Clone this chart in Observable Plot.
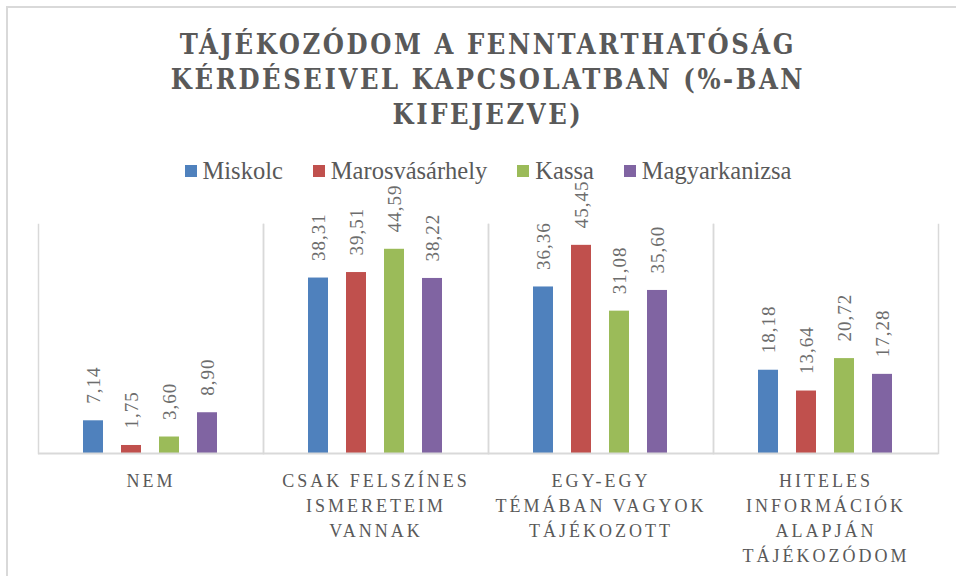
<!DOCTYPE html>
<html>
<head>
<meta charset="utf-8">
<script src="https://cdn.jsdelivr.net/npm/d3@7"></script>
<script src="https://cdn.jsdelivr.net/npm/@observablehq/plot@0.6"></script>
<style>
  html, body { margin: 0; padding: 0; background: #fff; }
  #wrap { position: relative; width: 956px; height: 576px; overflow: hidden; }
  #frame { position: absolute; left: 6px; top: 6px; width: 1000px; height: 1000px;
           border-left: 2px solid #d9d9d9; border-top: 2px solid #d9d9d9; }
  #chart { position: absolute; left: 0; top: 0; }
  #title { position: absolute; left: 37px; width: 902px; top: 27px; text-align: center;
           font-family: "DejaVu Serif Condensed", "DejaVu Serif", serif; font-stretch: condensed;
           font-weight: bold; font-size: 27px; letter-spacing: 2.6px; line-height: 35px; color: #595959; }
  #legend { position: absolute; left: 37px; width: 902px; top: 157px; display: flex; justify-content: center;
            gap: 30px; font-family: "Liberation Serif", serif; font-size: 24.5px; color: #595959; }
  .item { display: flex; align-items: center; }
  .sw { width: 12px; height: 12px; margin-right: 6px; display: inline-block; }
  #chart g[font-size="18"] text { letter-spacing: 3px; }
  #chart g[font-size="19"] text { letter-spacing: 1px; }
</style>
</head>
<body>
<div id="wrap">
  <div id="frame"></div>
  <div id="chart"></div>
  <div id="title"></div>
  <div id="legend"></div>
</div>
<script>
const titleLines = ["TÁJÉKOZÓDOM A FENNTARTHATÓSÁG", "KÉRDÉSEIVEL KAPCSOLATBAN (%-BAN", "KIFEJEZVE)"];
const categories = [
  "NEM",
  "CSAK FELSZÍNES\nISMERETEIM\nVANNAK",
  "EGY-EGY\nTÉMÁBAN VAGYOK\nTÁJÉKOZOTT",
  "HITELES\nINFORMÁCIÓK\nALAPJÁN\nTÁJÉKOZÓDOM"
];
const cities = ["Miskolc", "Marosvásárhely", "Kassa", "Magyarkanizsa"];
const colors = ["#4f81bd", "#c0504d", "#9bbb59", "#8064a2"];
const miskolc = [7.14, 38.31, 36.36, 18.18];
const marosvasarhely = [1.75, 39.51, 45.45, 13.64];
const kassa = [3.60, 44.59, 31.08, 20.72];
const magyarkanizsa = [8.90, 38.22, 35.60, 17.28];
const seriesValues = [miskolc, marosvasarhely, kassa, magyarkanizsa];

const data = [];
categories.forEach((c, i) => cities.forEach((city, j) => data.push({category: c, city, value: seriesValues[j][i]})));

const fmt = v => d3.format(".2f")(v).replace(".", ",");

document.getElementById("title").innerHTML = titleLines.map(l => `<div>${l}</div>`).join("");
document.getElementById("legend").innerHTML = cities.map((c, i) =>
  `<span class="item"><span class="sw" style="background:${colors[i]}"></span>${c}</span>`).join("");

const plot = Plot.plot({
  width: 956,
  height: 576,
  marginTop: 224,
  marginBottom: 123,
  marginLeft: 37,
  marginRight: 17,
  style: {fontFamily: "'Liberation Serif', serif", background: "transparent"},
  fx: {domain: categories, padding: 0, axis: null},
  x: {domain: cities, paddingInner: 0.4675, paddingOuter: 1.162, axis: null},
  y: {domain: [0, 50], axis: null},
  color: {domain: cities, range: colors},
  marks: [
    Plot.frame({anchor: "left", stroke: "#d9d9d9", strokeWidth: 1.5, strokeOpacity: 1}),
    Plot.frame({anchor: "right", stroke: "#d9d9d9", strokeWidth: 1.5, strokeOpacity: 1}),
    Plot.barY(data, {fx: "category", x: "city", y: "value", fill: "city"}),
    Plot.ruleY([0], {stroke: "#d9d9d9", strokeWidth: 2}),
    Plot.text(data, {fx: "category", x: "city", y: "value", text: d => fmt(d.value), rotate: -90,
      textAnchor: "start", lineAnchor: "middle", dy: -17, fontSize: 19, fill: "#6d6d6d"}),
    Plot.text(categories, {fx: d => d, text: d => d, frameAnchor: "bottom", lineAnchor: "top",
      dy: 16, fontSize: 18, lineHeight: 1.39, fill: "#595959"})
  ]
});
document.getElementById("chart").appendChild(plot);
</script>
</body>
</html>
